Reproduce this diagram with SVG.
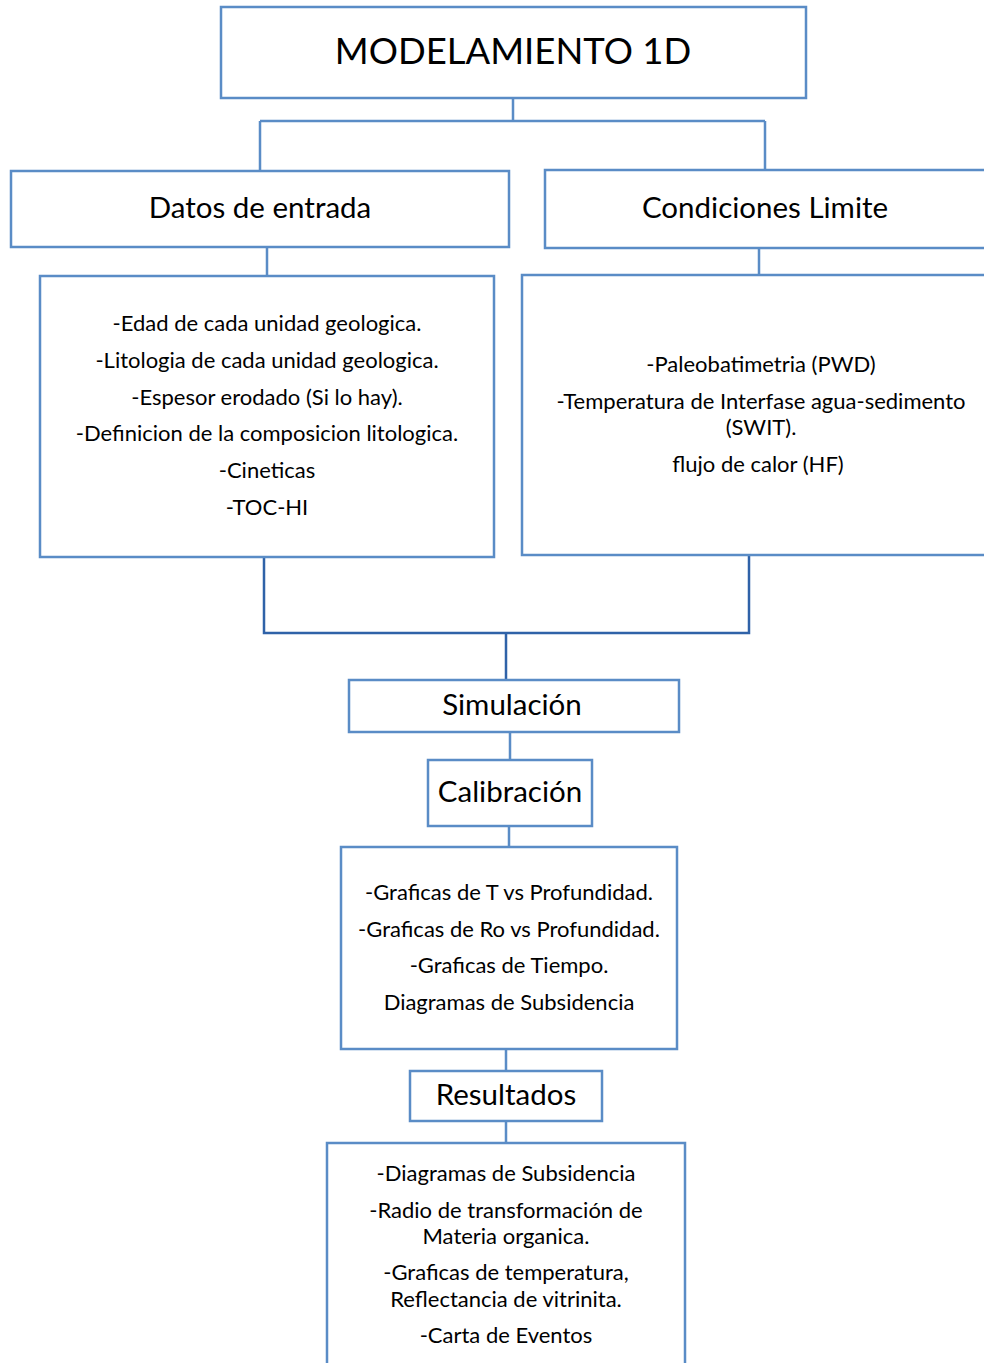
<svg xmlns="http://www.w3.org/2000/svg" width="984" height="1363" viewBox="0 0 984 1363">
<style>
.box{fill:#fff;stroke:#5a8cc6;stroke-width:2.5}
.c{fill:none;stroke:#5a8cc6;stroke-width:2.5}
.d{fill:none;stroke:#2f62a8;stroke-width:2.5}
text{font-family:Lato,"Liberation Sans",sans-serif;fill:#000;text-anchor:middle}
.t{font-size:36.5px}
.h{font-size:29.5px}
.l{font-size:22px}
</style>
<rect width="984" height="1363" fill="#fff"/>
<g id="connectors">
<path class="c" d="M513 98V121M260 121H765M260 121V171M765 121V170"/>
<path class="c" d="M267 247V276M759 248V275"/>
<path class="d" d="M264 557V633H749V555M506 633V680"/>
<path class="c" d="M510 732V760M509 826V847M506 1049V1071M506 1121V1143"/>
</g>
<g id="modelamiento">
<rect class="box" x="221" y="7" width="585" height="91"/>
<text class="t" x="513" y="64">MODELAMIENTO 1D</text>
</g>
<g id="datos">
<rect class="box" x="11" y="171" width="498" height="76"/>
<text class="h" x="260" y="218">Datos de entrada</text>
</g>
<g id="condiciones">
<rect class="box" x="545" y="170" width="450" height="78"/>
<text class="h" x="765" y="218">Condiciones Limite</text>
</g>
<g id="datos-lista">
<rect class="box" x="40" y="276" width="454" height="281"/>
<text class="l" x="267" y="331">-Edad de cada unidad geologica.</text>
<text class="l" x="267" y="368">-Litologia de cada unidad geologica.</text>
<text class="l" x="267" y="405">-Espesor erodado (Si lo hay).</text>
<text class="l" x="267" y="441">-Definicion de la composicion litologica.</text>
<text class="l" x="267" y="478">-Cineticas</text>
<text class="l" x="267" y="515">-TOC-HI</text>
</g>
<g id="condiciones-lista">
<rect class="box" x="522" y="275" width="473" height="280"/>
<text class="l" x="761" y="372">-Paleobatimetria (PWD)</text>
<text class="l" x="761" y="409">-Temperatura de Interfase agua-sedimento</text>
<text class="l" x="761" y="435">(SWIT).</text>
<text class="l" x="758" y="472">flujo de calor (HF)</text>
</g>
<g id="simulacion">
<rect class="box" x="349" y="680" width="330" height="52"/>
<text class="h" x="512" y="715">Simulación</text>
</g>
<g id="calibracion">
<rect class="box" x="428" y="760" width="164" height="66"/>
<text class="h" x="510" y="802">Calibración</text>
</g>
<g id="graficas">
<rect class="box" x="341" y="847" width="336" height="202"/>
<text class="l" x="509" y="900">-Graficas de T vs Profundidad.</text>
<text class="l" x="509" y="937">-Graficas de Ro vs Profundidad.</text>
<text class="l" x="509" y="973">-Graficas de Tiempo.</text>
<text class="l" x="509" y="1010">Diagramas de Subsidencia</text>
</g>
<g id="resultados">
<rect class="box" x="410" y="1071" width="192" height="50"/>
<text class="h" x="506" y="1105">Resultados</text>
</g>
<g id="resultados-lista">
<rect class="box" x="327" y="1143" width="358" height="230"/>
<text class="l" x="506" y="1181">-Diagramas de Subsidencia</text>
<text class="l" x="506" y="1218">-Radio de transformación de</text>
<text class="l" x="506" y="1244">Materia organica.</text>
<text class="l" x="506" y="1280">-Graficas de temperatura,</text>
<text class="l" x="506" y="1307">Reflectancia de vitrinita.</text>
<text class="l" x="506" y="1343">-Carta de Eventos</text>
</g>
</svg>
